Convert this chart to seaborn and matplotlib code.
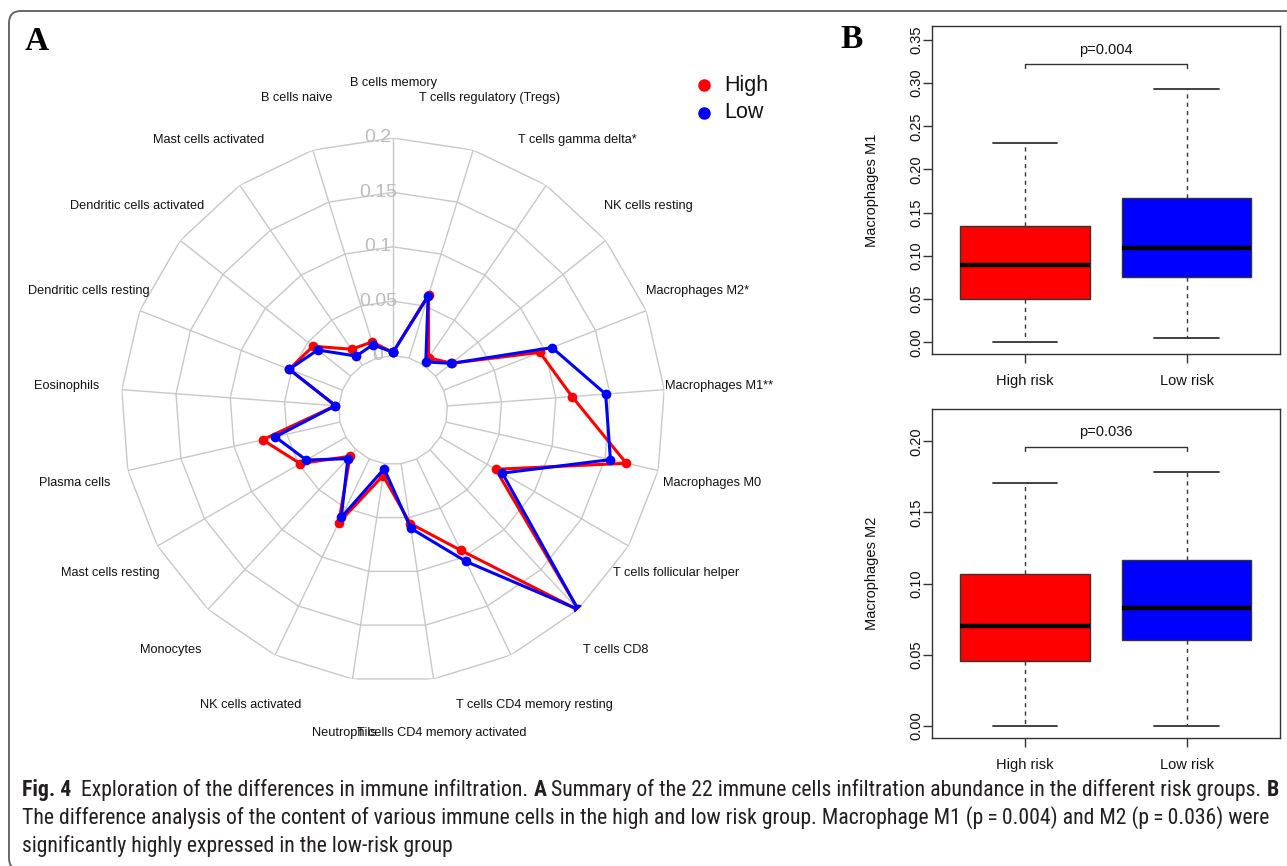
import numpy as np
import pandas as pd
import matplotlib
matplotlib.use('Agg')
import matplotlib.pyplot as plt
import seaborn as sns
from matplotlib.transforms import offset_copy, IdentityTransform
from matplotlib.patches import FancyBboxPatch
from matplotlib.lines import Line2D
from matplotlib import font_manager

# ---------------- data ----------------
cells = ['B cells memory', 'T cells regulatory (Tregs)', 'T cells gamma delta*', 'NK cells resting',
         'Macrophages M2*', 'Macrophages M1**', 'Macrophages M0', 'T cells follicular helper',
         'T cells CD8', 'T cells CD4 memory resting', 'T cells CD4 memory activated', 'Neutrophils',
         'NK cells activated', 'Monocytes', 'Mast cells resting', 'Plasma cells', 'Eosinophils',
         'Dendritic cells resting', 'Dendritic cells activated', 'Mast cells activated', 'B cells naive']
high_vals = [0.003, 0.061, 0.008, 0.019, 0.095, 0.115, 0.170, 0.059, 0.201, 0.093, 0.0555, 0.011,
             0.065, 0.008, 0.0485, 0.073, 0.003, 0.0525, 0.044, 0.0176, 0.0154]
low_vals = [0.003, 0.0595, 0.0035, 0.0187, 0.107, 0.146, 0.155, 0.066, 0.200, 0.1045, 0.060, 0.0046,
            0.0596, 0.011, 0.042, 0.061, 0.003, 0.0525, 0.0385, 0.010, 0.0128]
groups = ['High', 'Low']
group_colors = ['#FF0000', '#0000FF']
radial_ticks = [0, 0.05, 0.1, 0.15, 0.2]
radial_tick_labels = ['0', '0.05', '0.1', '0.15', '0.2']

risk_labels = ['High risk', 'Low risk']
box_colors = ['#FF0000', '#0000FF']
m1_whislo = [0.0, 0.0046]
m1_q1 = [0.0501, 0.0753]
m1_med = [0.0891, 0.1092]
m1_q3 = [0.1347, 0.1674]
m1_whishi = [0.2304, 0.2930]
m1_p_text = 'p=0.004'
m1_bracket = 0.3222
m1_yticks = [0.00, 0.05, 0.10, 0.15, 0.20, 0.25, 0.30, 0.35]

m2_whislo = [0.0, 0.0]
m2_q1 = [0.0452, 0.0600]
m2_med = [0.0703, 0.0826]
m2_q3 = [0.1068, 0.1162]
m2_whishi = [0.1705, 0.1786]
m2_p_text = 'p=0.036'
m2_bracket = 0.1962
m2_yticks = [0.00, 0.05, 0.10, 0.15, 0.20]

# ---------------- style ----------------
sns.set_style('white')
names = {f.name for f in font_manager.fontManager.ttflist}
base_font = 'Liberation Sans' if 'Liberation Sans' in names else 'DejaVu Sans'
cap_font = base_font
for cand in ['Liberation Sans Narrow', 'Roboto Condensed', 'Open Sans Condensed']:
    if cand in names:
        cap_font = cand
        break
plt.rcParams['font.family'] = [base_font, 'DejaVu Sans']

W, H = 1287, 866
fig = plt.figure(figsize=(W / 100, H / 100), dpi=100)
fig.patch.set_facecolor('white')


def fx(px):
    return px / W


def fy(py):
    return 1 - py / H


# ---------------- radar (panel A) ----------------
n = len(cells)
theta = np.arange(n) * 2 * np.pi / n
theta_closed = np.append(theta, 2 * np.pi)

axr = fig.add_axes([fx(121), fy(682), 544 / W, 544 / H], projection='polar')
axr.set_theta_zero_location('N')
axr.set_theta_direction(-1)
axr.grid(False)
axr.spines['polar'].set_visible(False)
axr.set_facecolor('none')

grid_col = '#c8c8c8'
for r in radial_ticks:
    axr.plot(theta_closed, [r] * len(theta_closed), color=grid_col, lw=1.0, zorder=1)
for t in theta:
    axr.plot([t, t], [radial_ticks[0], radial_ticks[-1]], color=grid_col, lw=1.0, zorder=1)

df = pd.DataFrame({
    'theta': np.concatenate([theta_closed, theta_closed]),
    'value': np.concatenate([np.append(high_vals, high_vals[0]), np.append(low_vals, low_vals[0])]),
    'group': [groups[0]] * (n + 1) + [groups[1]] * (n + 1),
})
sns.lineplot(data=df, x='theta', y='value', hue='group', hue_order=groups, palette=group_colors,
             sort=False, estimator=None, marker='o', markersize=7, markeredgewidth=0,
             linewidth=2.2, legend=False, ax=axr, zorder=3)
axr.set_xlabel('')
axr.set_ylabel('')
axr.set_xticks([])
axr.set_yticks([])
axr.set_xlim(0, 2 * np.pi)
axr.set_ylim(-0.05, 0.2)

for t, lab in zip(theta, cells):
    axr.text(t, 0.2505, lab, ha='center', va='center', fontsize=9.2, color='#111111', clip_on=False)

tr = offset_copy(axr.transData, fig=fig, x=-15, y=0, units='dots')
for r, lab in zip(radial_ticks, radial_tick_labels):
    axr.text(0, r, lab, transform=tr, ha='center', va='center', fontsize=14, color='#bdbdbd', zorder=2)

# legend
for i, (g, c) in enumerate(zip(groups, group_colors)):
    yy = 85 + 27.5 * i
    fig.add_artist(Line2D([fx(704)], [fy(yy)], marker='o', color=c, markersize=9, markeredgewidth=0,
                          linestyle='none', transform=fig.transFigure))
    fig.text(fx(724), fy(yy), g, fontsize=15.5, va='center', ha='left', color='#111111')

# ---------------- boxplots (panel B) ----------------
def box_panel(rect, whislo, q1, med, q3, whishi, yticks, ylim, ylabel, p_text, bracket, p_y):
    ax = fig.add_axes(rect)
    stats = []
    for i in range(len(risk_labels)):
        stats.append(dict(whislo=whislo[i], q1=q1[i], med=med[i], q3=q3[i], whishi=whishi[i], label=risk_labels[i]))
    bp = ax.bxp(stats, positions=[1, 2], widths=0.8, capwidths=0.4, patch_artist=True, showfliers=False,
                boxprops=dict(edgecolor='#333333', linewidth=1.0),
                medianprops=dict(color='black', linewidth=3.2, solid_capstyle='butt'),
                whiskerprops=dict(color='#333333', linewidth=1.0, linestyle=(0, (3, 3))),
                capprops=dict(color='#333333', linewidth=1.3))
    for patch, col in zip(bp['boxes'], box_colors):
        patch.set_facecolor(col)
    ax.set_xlim(0.425, 2.577)
    ax.set_ylim(*ylim)
    ax.set_yticks(yticks)
    ax.set_yticklabels([f'{v:.2f}' for v in yticks])
    ax.set_xticks([1, 2])
    ax.set_xticklabels(risk_labels)
    ax.tick_params(axis='both', direction='out', length=6.5, width=1, color='#333333',
                   labelsize=10.5, labelcolor='#111111', left=True, bottom=True)
    ax.tick_params(axis='y', pad=5)
    ax.tick_params(axis='x', pad=8)
    for lab in ax.get_yticklabels():
        lab.set_rotation(90)
        lab.set_va('center')
        lab.set_ha('center')
        lab.set_rotation_mode('default')
    for sp in ax.spines.values():
        sp.set_visible(True)
        sp.set_color('#333333')
        sp.set_linewidth(1.0)
    ax.set_ylabel(ylabel, fontsize=10.5, color='#111111')
    ax.yaxis.set_label_coords(-0.173, 0.5)
    ax.yaxis.label.set_va('center')
    ax.set_xlabel('')
    tick_drop = (ylim[1] - ylim[0]) * 0.013
    ax.plot([1, 1, 2, 2], [bracket - tick_drop, bracket, bracket, bracket - tick_drop],
            color='#333333', lw=1.0)
    ax.text(1.5, p_y, p_text, ha='center', va='center', fontsize=10.5, color='#111111')
    return ax


ax1 = box_panel([fx(932), fy(354), 348 / W, 328 / H], m1_whislo, m1_q1, m1_med, m1_q3, m1_whishi,
                m1_yticks, (-0.0135, 0.366), 'Macrophages M1', m1_p_text, m1_bracket, 0.3384)
ax2 = box_panel([fx(932), fy(738), 348 / W, 329 / H], m2_whislo, m2_q1, m2_med, m2_q3, m2_whishi,
                m2_yticks, (-0.0087, 0.2228), 'Macrophages M2', m2_p_text, m2_bracket, 0.2063)

# panel letters
fig.text(fx(37), fy(41), 'A', fontsize=24, fontweight='bold', family=['Liberation Serif', 'DejaVu Serif'],
         ha='center', va='center', color='black')
fig.text(fx(852), fy(40), 'B', fontsize=24, fontweight='bold', family=['Liberation Serif', 'DejaVu Serif'],
         ha='center', va='center', color='black')

# frame
fig.add_artist(FancyBboxPatch((9, H - 870), 1400, 870 - 11, boxstyle='round,pad=0,rounding_size=12',
                              transform=IdentityTransform(), fill=False, ec='#666666', lw=1.4))

# ---------------- caption ----------------
cap_lines = [
    [('Fig. 4', 'bold'), ('  Exploration of the differences in immune infiltration. ', 'normal'), ('A', 'bold'),
     (' Summary of the 22 immune cells infiltration abundance in the different risk groups. ', 'normal'),
     ('B', 'bold')],
    [('The difference analysis of the content of various immune cells in the high and low risk group. '
      'Macrophage M1 (p\u2009=\u20090.004) and M2 (p\u2009=\u20090.036) were', 'normal')],
    [('significantly highly expressed in the low-risk group', 'normal')],
]
cap_y = [790, 818, 846]
renderer = fig.canvas.get_renderer()


def draw_line(segs, ypx, size, keep=True):
    x = 22
    made = []
    for txt, wt in segs:
        t = fig.text(fx(x), fy(ypx), txt, fontsize=size, fontweight=wt, family=[cap_font, 'DejaVu Sans'],
                     color='#231f20', ha='left', va='center')
        x += t.get_window_extent(renderer).width
        made.append(t)
    if not keep:
        for t in made:
            t.remove()
    return x - 22


w12 = draw_line(cap_lines[0], cap_y[0], 12, keep=False)
cap_size = 12 * 1258 / w12
for segs, yy in zip(cap_lines, cap_y):
    draw_line(segs, yy, cap_size)

fig.savefig('out.png', dpi=100)
